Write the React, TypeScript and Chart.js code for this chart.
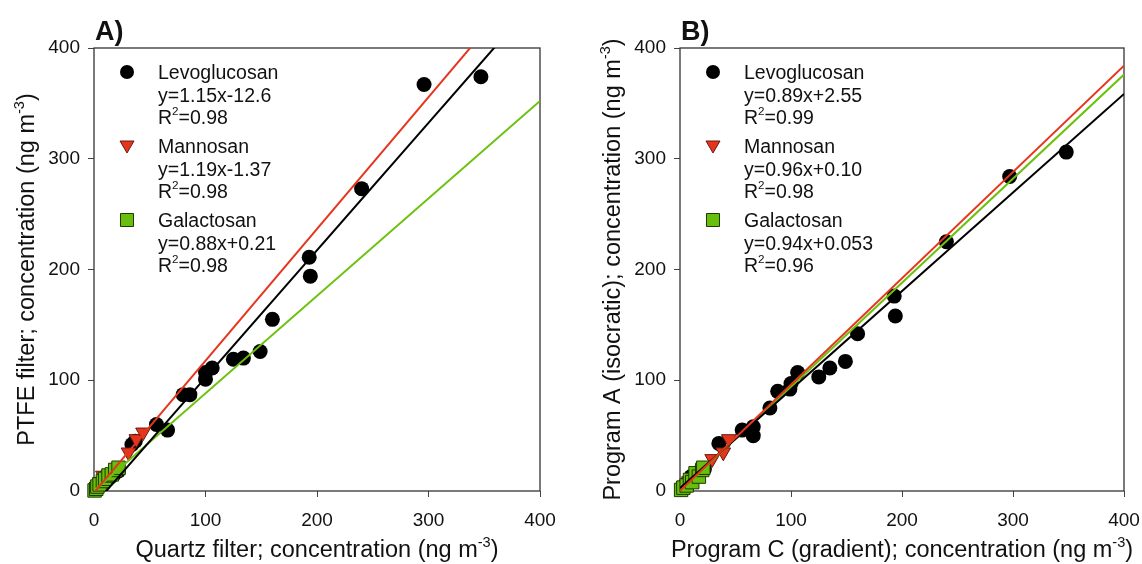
import React, { useEffect, useRef } from 'react';
import { Chart, registerables } from 'chart.js';

Chart.register(...registerables);

const FONT = '"Liberation Sans", Arial, Helvetica, sans-serif';

// ---------- data ----------
const tickStep = 100;
const axisMin = 0;
const axisMax = 400;
const seriesNames = ['Levoglucosan', 'Mannosan', 'Galactosan'];

// Panel A: Quartz filter (x) vs PTFE filter (y)
const aLevoX = [347, 296, 240, 193, 194, 160, 149, 134, 125, 106, 100, 100, 86, 80, 66, 56, 34, 37, 22, 18, 14, 10, 7, 4, 2];
const aLevoY = [374, 367, 273, 211, 194, 155, 126, 120, 119, 111, 107, 101, 87, 87, 55, 60, 42, 45, 18, 15, 12, 10, 9, 6, 3];
const aMannX = [31, 38, 44, 13, 10, 8, 5, 3];
const aMannY = [35, 47, 53, 15, 12, 14, 8, 4];
const aGalaX = [0.5, 2, 3, 5, 8, 10, 13, 16, 19, 22];
const aGalaY = [0.5, 2, 4, 6, 9, 11, 14, 15, 19, 21];
const aSlopes = [1.15, 1.19, 0.88];
const aIntercepts = [-12.6, -1.37, 0.21];
const aEquations = ['y=1.15x-12.6', 'y=1.19x-1.37', 'y=0.88x+0.21'];
const aR2 = ['0.98', '0.98', '0.98'];

// Panel B: Program C (x) vs Program A (y)
const bLevoX = [348, 297, 240, 193, 194, 160, 149, 135, 125, 106, 100, 99, 88, 81, 66, 66, 56, 35, 22, 18, 14, 10, 8, 5, 2];
const bLevoY = [306, 284, 225, 176, 158, 142, 117, 111, 103, 107, 97, 92, 90, 75, 58, 50, 55, 43, 20, 18, 15, 13, 8, 6, 3];
const bMannX = [44, 39, 29, 12, 8, 4];
const bMannY = [47, 35, 29, 11, 9, 5];
const bGalaX = [1, 3, 6, 9, 11, 14, 17, 20, 21];
const bGalaY = [1, 3, 5, 10, 8, 16, 13, 19, 21];
const bSlopes = [0.89, 0.96, 0.94];
const bIntercepts = [2.55, 0.1, 0.053];
const bEquations = ['y=0.89x+2.55', 'y=0.96x+0.10', 'y=0.94x+0.053'];
const bR2 = ['0.99', '0.98', '0.96'];

// ---------- styles ----------
const BLACK = '#000000';
const RED = '#E5361D';
const RED_EDGE = '#6a1a0c';
const GREEN = '#67BE0C';
const GREEN_LINE = '#6CC10E';
const GREEN_EDGE = '#1f3a00';
const TEXT = '#111111';

type Part = { t: string; sup?: boolean };

function drawRich(ctx: CanvasRenderingContext2D, parts: Part[], x: number, y: number, size: number, align: 'left' | 'center', supScale = 0.62, raise = 0.42) {
  const supSize = size * supScale;
  let total = 0;
  const widths = parts.map((p) => {
    ctx.font = `${p.sup ? supSize : size}px ${FONT}`;
    const w = ctx.measureText(p.t).width;
    total += w;
    return w;
  });
  let cx = align === 'center' ? x - total / 2 : x;
  ctx.textAlign = 'left';
  ctx.textBaseline = 'alphabetic';
  parts.forEach((p, i) => {
    ctx.font = `${p.sup ? supSize : size}px ${FONT}`;
    ctx.fillText(p.t, cx, p.sup ? y - size * raise : y);
    cx += widths[i];
  });
}

function drawMarker(ctx: CanvasRenderingContext2D, kind: number, x: number, y: number) {
  ctx.save();
  ctx.beginPath();
  if (kind === 0) {
    ctx.arc(x, y, 7, 0, Math.PI * 2);
    ctx.fillStyle = BLACK;
    ctx.fill();
  } else if (kind === 1) {
    ctx.moveTo(x - 7, y - 5);
    ctx.lineTo(x + 7, y - 5);
    ctx.lineTo(x, y + 7);
    ctx.closePath();
    ctx.fillStyle = RED;
    ctx.fill();
    ctx.lineWidth = 1;
    ctx.strokeStyle = RED_EDGE;
    ctx.stroke();
  } else {
    ctx.rect(x - 6.5, y - 6.5, 13, 13);
    ctx.fillStyle = GREEN;
    ctx.fill();
    ctx.lineWidth = 1;
    ctx.strokeStyle = GREEN_EDGE;
    ctx.stroke();
  }
  ctx.restore();
}

type PanelCfg = {
  letter: string;
  xTitle: Part[];
  yTitle: Part[];
  levoX: number[]; levoY: number[];
  mannX: number[]; mannY: number[];
  galaX: number[]; galaY: number[];
  slopes: number[]; intercepts: number[];
  equations: string[]; r2: string[];
  left: number; padRight: number;
};

const panelA: PanelCfg = {
  letter: 'A)',
  xTitle: [{ t: 'Quartz filter; concentration (ng m' }, { t: '-3', sup: true }, { t: ')' }],
  yTitle: [{ t: 'PTFE filter; concentration (ng m' }, { t: '-3', sup: true }, { t: ')' }],
  levoX: aLevoX, levoY: aLevoY, mannX: aMannX, mannY: aMannY, galaX: aGalaX, galaY: aGalaY,
  slopes: aSlopes, intercepts: aIntercepts, equations: aEquations, r2: aR2,
  left: 94, padRight: 31,
};

const panelB: PanelCfg = {
  letter: 'B)',
  xTitle: [{ t: 'Program C (gradient); concentration (ng m' }, { t: '-3', sup: true }, { t: ')' }],
  yTitle: [{ t: 'Program A (isocratic); concentration (ng m' }, { t: '-3', sup: true }, { t: ')' }],
  levoX: bLevoX, levoY: bLevoY, mannX: bMannX, mannY: bMannY, galaX: bGalaX, galaY: bGalaY,
  slopes: bSlopes, intercepts: bIntercepts, equations: bEquations, r2: bR2,
  left: 109, padRight: 18,
};

const W = 571;
const H = 564;

function Panel({ cfg, offset }: { cfg: PanelCfg; offset: number }) {
  const ref = useRef<HTMLCanvasElement | null>(null);
  useEffect(() => {
    if (!ref.current) return;
    const pts = (xs: number[], ys: number[]) => xs.map((x, i) => ({ x, y: ys[i] }));
    const fit = (i: number) => [
      { x: axisMin, y: cfg.slopes[i] * axisMin + cfg.intercepts[i] },
      { x: axisMax, y: cfg.slopes[i] * axisMax + cfg.intercepts[i] },
    ];
    const lineColors = [BLACK, RED, GREEN_LINE];

    const decor = {
      id: 'decor',
      beforeDatasetsDraw(chart: any) {
        const { ctx, chartArea: a } = chart;
        ctx.save();
        ctx.strokeStyle = '#333333';
        ctx.lineWidth = 1.3;
        ctx.strokeRect(a.left, a.top, a.right - a.left, a.bottom - a.top);
        ctx.restore();
      },
      afterDraw(chart: any) {
        const { ctx, chartArea: a } = chart;
        ctx.save();
        ctx.fillStyle = TEXT;
        // panel letter
        ctx.font = `bold 27px ${FONT}`;
        ctx.textAlign = 'left';
        ctx.textBaseline = 'alphabetic';
        ctx.fillText(cfg.letter, a.left + 1, 40);
        // x title
        drawRich(ctx, cfg.xTitle, (a.left + a.right) / 2, a.bottom + 66, 23.5, 'center');
        // y title
        ctx.save();
        ctx.translate(a.left - 68, (a.top + a.bottom) / 2);
        ctx.rotate(-Math.PI / 2);
        drawRich(ctx, cfg.yTitle, 0, 8, 23.5, 'center');
        ctx.restore();
        // legend
        const rowStarts = [24, 98, 172];
        for (let i = 0; i < 3; i++) {
          const cy = a.top + rowStarts[i];
          drawMarker(ctx, i, a.left + 33, cy);
          ctx.fillStyle = TEXT;
          drawRich(ctx, [{ t: seriesNames[i] }], a.left + 64, cy + 7, 19.5, 'left');
          drawRich(ctx, [{ t: cfg.equations[i] }], a.left + 64, cy + 29.5, 19.5, 'left');
          drawRich(ctx, [{ t: 'R' }, { t: '2', sup: true }, { t: '=' + cfg.r2[i] }], a.left + 64, cy + 52, 19.5, 'left', 0.6, 0.45);
        }
        ctx.restore();
      },
    };

    const tickFont = { family: FONT, size: 19 };
    const chart = new Chart(ref.current, {
      type: 'scatter',
      data: {
        datasets: [
          ...[0, 1, 2].map((i) => ({
            label: seriesNames[i] + ' fit',
            data: fit(i),
            showLine: true,
            borderColor: lineColors[i],
            borderWidth: 2,
            pointRadius: 0,
            clip: 0,
            order: i === 1 ? 0 : 1,
          })),
          {
            label: seriesNames[2],
            data: pts(cfg.galaX, cfg.galaY),
            pointStyle: 'rect',
            pointRadius: 9.5,
            backgroundColor: GREEN,
            borderColor: GREEN_EDGE,
            borderWidth: 1,
            clip: false,
            order: 2,
          },
          {
            label: seriesNames[1],
            data: pts(cfg.mannX, cfg.mannY),
            pointStyle: 'triangle',
            rotation: 180,
            pointRadius: 8.5,
            backgroundColor: RED,
            borderColor: RED_EDGE,
            borderWidth: 1,
            clip: false,
            order: 3,
          },
          {
            label: seriesNames[0],
            data: pts(cfg.levoX, cfg.levoY),
            pointStyle: 'circle',
            pointRadius: 7.5,
            backgroundColor: BLACK,
            borderColor: BLACK,
            borderWidth: 0,
            clip: false,
            order: 4,
          },
        ] as any,
      },
      options: {
        responsive: false,
        animation: false,
        events: [],
        layout: { padding: { left: 0, right: cfg.padRight, top: 48, bottom: 0 } },
        plugins: { legend: { display: false }, tooltip: { enabled: false } },
        scales: {
          x: {
            type: 'linear',
            min: axisMin,
            max: axisMax,
            afterFit: (s: any) => { s.height = 73; s.paddingLeft = 0; s.paddingRight = 0; },
            ticks: { stepSize: tickStep, font: tickFont, color: TEXT, padding: 12, maxRotation: 0 },
            grid: { drawOnChartArea: false, drawTicks: true, tickLength: 6, color: '#444', lineWidth: 1 },
            border: { display: false },
          },
          y: {
            type: 'linear',
            min: axisMin,
            max: axisMax,
            afterFit: (s: any) => { s.width = cfg.left; s.paddingTop = 0; s.paddingBottom = 0; },
            ticks: { stepSize: tickStep, font: tickFont, color: TEXT, padding: 8 },
            grid: { drawOnChartArea: false, drawTicks: true, tickLength: 6, color: '#444', lineWidth: 1 },
            border: { display: false },
          },
        },
      } as any,
      plugins: [decor],
    });
    return () => chart.destroy();
  }, [cfg]);
  return (
    <canvas
      ref={ref}
      width={W}
      height={H}
      style={{ position: 'absolute', left: offset, top: 0, width: W, height: H, display: 'block' }}
    />
  );
}

export default function App() {
  return (
    <div style={{ position: 'absolute', left: 0, top: 0, width: 1142, height: 564, background: '#fff', overflow: 'hidden' }}>
      <Panel cfg={panelA} offset={0} />
      <Panel cfg={panelB} offset={571} />
    </div>
  );
}
